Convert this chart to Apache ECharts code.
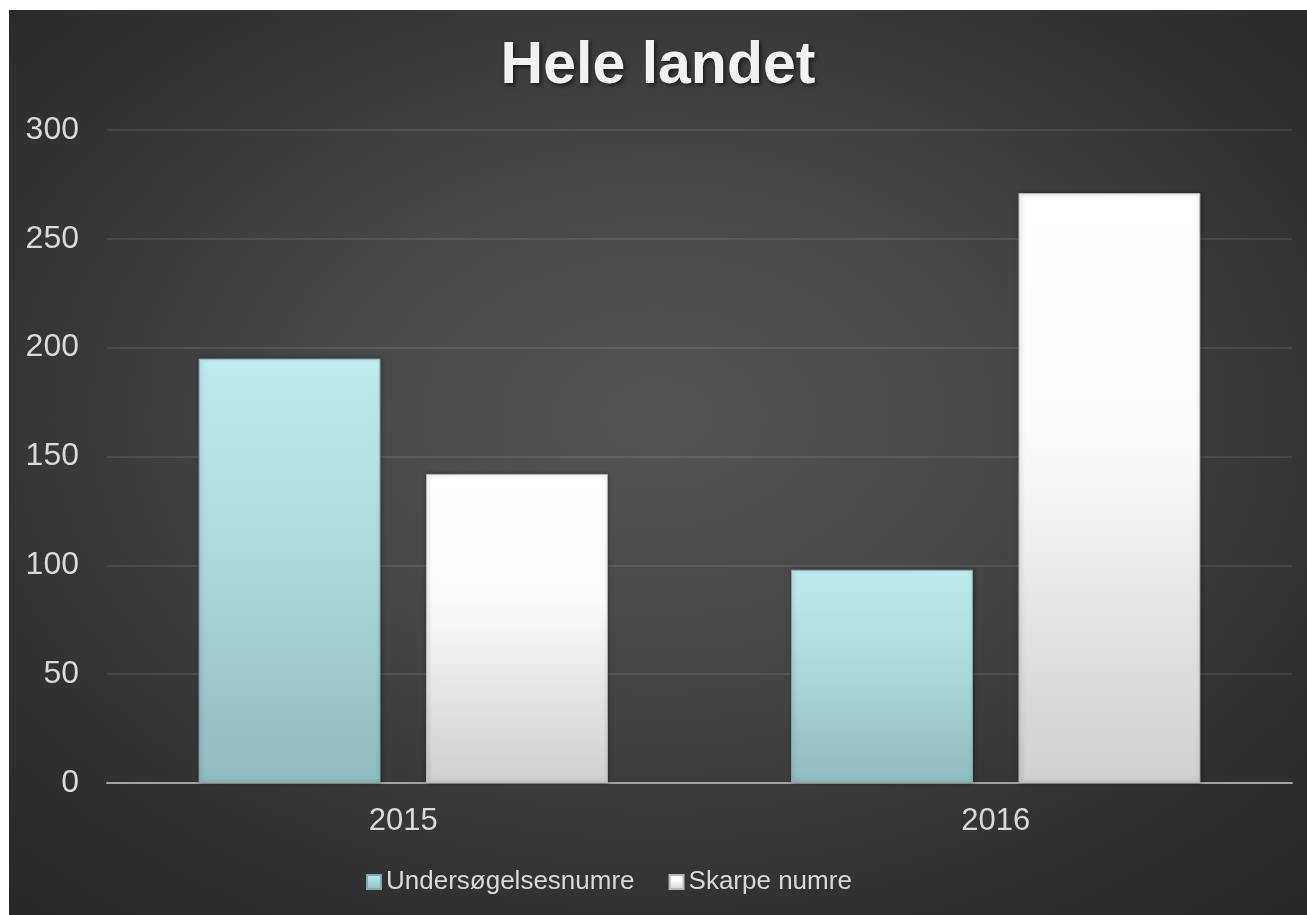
<!DOCTYPE html>
<html>
<head>
<meta charset="utf-8">
<script src="https://cdn.jsdelivr.net/npm/echarts@6/dist/echarts.min.js"></script>
<style>
  html, body { margin: 0; padding: 0; background: #ffffff; }
  #wrap {
    position: absolute; left: 9px; top: 10px; width: 1298px; height: 905px;
    background: radial-gradient(ellipse 75% 75% at 50% 45%, #565656 0%, #474747 35%, #333333 70%, #262626 100%);
  }
  #chart { width: 1298px; height: 905px; }
</style>
</head>
<body>
<div id="wrap"><div id="chart"></div></div>
<script>
(function() {
  var years = ['2015', '2016'];
  var undersogelse = [195, 98];
  var skarpe = [142, 271];
  var yTicks = [0, 50, 100, 150, 200, 250, 300];

  var labelColor = '#d9d9d9';
  var font = 'Liberation Sans, Arial, sans-serif';

  var tealFill = new echarts.graphic.LinearGradient(0, 0, 0, 1, [
    { offset: 0, color: '#c4f1f3' },
    { offset: 0.03, color: '#bcebee' },
    { offset: 0.5, color: '#a9d8db' },
    { offset: 1, color: '#8fbcbe' }
  ]);
  var whiteFill = new echarts.graphic.LinearGradient(0, 0, 0, 1, [
    { offset: 0, color: '#ffffff' },
    { offset: 0.4, color: '#fcfcfc' },
    { offset: 1, color: '#cfcfcf' }
  ]);

  var chart = echarts.init(document.getElementById('chart'), null, { renderer: 'canvas' });

  chart.setOption({
    backgroundColor: 'transparent',
    animation: false,
    title: {
      text: 'Hele landet',
      left: 'center',
      top: 22,
      textStyle: {
        color: '#f2f2f2',
        fontFamily: font,
        fontWeight: 'bold',
        fontSize: 59,
        textShadowColor: 'rgba(0,0,0,0.6)',
        textShadowBlur: 4,
        textShadowOffsetX: 2,
        textShadowOffsetY: 2
      }
    },
    legend: {
      data: ['Undersøgelsesnumre', 'Skarpe numre'],
      left: 352,
      top: 854,
      icon: 'rect',
      itemWidth: 14,
      itemHeight: 14,
      itemGap: 34,
      textStyle: { color: labelColor, fontFamily: font, fontSize: 26, padding: [0, 0, 0, 0] }
    },
    grid: { left: 98, right: 15, top: 120, bottom: 132 },
    xAxis: {
      type: 'category',
      data: years,
      axisTick: { show: false },
      axisLine: { lineStyle: { color: '#a3a3a3', width: 2 } },
      axisLabel: { color: labelColor, fontFamily: font, fontSize: 31, margin: 23 }
    },
    yAxis: {
      type: 'value',
      min: yTicks[0],
      max: yTicks[yTicks.length - 1],
      interval: 50,
      axisLine: { show: false },
      axisTick: { show: false },
      axisLabel: { color: labelColor, fontFamily: font, fontSize: 32, margin: 28 },
      splitLine: { lineStyle: { color: 'rgba(255,255,255,0.09)', width: 2 } }
    },
    series: [
      {
        name: 'Undersøgelsesnumre',
        type: 'bar',
        data: undersogelse,
        barWidth: '30.7%',
        barGap: '25%',
        itemStyle: {
          color: tealFill,
          borderColor: '#7fa9ab',
          borderWidth: 1,
          shadowColor: 'rgba(0,0,0,0.35)',
          shadowBlur: 4,
          shadowOffsetX: 1
        }
      },
      {
        name: 'Skarpe numre',
        type: 'bar',
        data: skarpe,
        barWidth: '30.7%',
        itemStyle: {
          color: whiteFill,
          borderColor: '#b8b8b8',
          borderWidth: 1,
          shadowColor: 'rgba(0,0,0,0.35)',
          shadowBlur: 4,
          shadowOffsetX: 1
        }
      }
    ]
  });

  window.addEventListener('resize', function() { chart.resize(); });
})();
</script>
</body>
</html>
